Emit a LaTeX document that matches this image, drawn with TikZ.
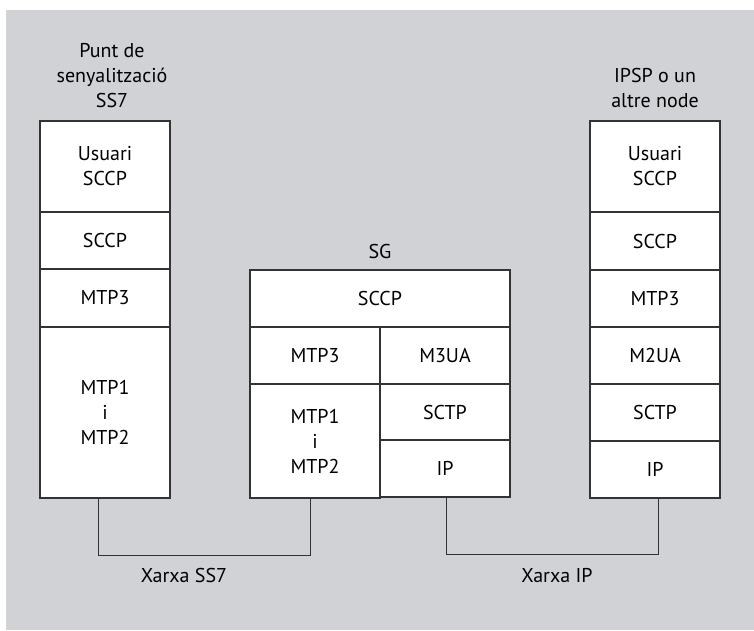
\documentclass[tikz,border=0pt]{standalone}
\usepackage{xcolor}
\usepackage{fontspec}
\setmainfont{PT Sans}
\usetikzlibrary{positioning}
\definecolor{fonsgris}{HTML}{D0D2D5}
\definecolor{linia}{HTML}{333333}

\begin{document}
\begin{tikzpicture}[x=1pt, y=-1pt,
		capa/.style={draw=linia, line width=1.2pt, fill=white, outer sep=0pt, inner sep=0pt, minimum width=130pt, align=center, font=\fontsize{20}{25}\selectfont},
		titol/.style={align=center, inner sep=0pt, font=\fontsize{20}{25}\selectfont},
		enllac/.style={draw=linia, line width=1pt}]
	\useasboundingbox (0, 0) rectangle (754, 630);
	\fill[fonsgris] (6, 10) rectangle (754, 630);

	% punt de senyalitzacio SS7
	\node[capa, minimum height=91pt, anchor=north] (pusr) at (105, 121) {Usuari\\SCCP};
	\node[capa, minimum height=57pt, below=0pt of pusr] (psccp) {SCCP};
	\node[capa, minimum height=58pt, below=0pt of psccp] (pmtp3) {MTP3};
	\node[capa, minimum height=171pt, below=0pt of pmtp3] (pmtp) {MTP1\\i\\MTP2};
	\node[titol, above=13pt of pusr, xshift=7pt] (ptitol) {Punt de\\senyalització\\SS7};

	% SG
	\node[capa, minimum width=260pt, minimum height=57pt, anchor=north] (gsccp) at (380, 270) {SCCP};
	\node[capa, minimum height=57pt, below right=0pt and 0pt of gsccp.south west] (gmtp3) {MTP3};
	\node[capa, minimum height=114pt, below=0pt of gmtp3] (gmtp) {MTP1\\i\\MTP2};
	\node[capa, minimum height=57pt, below left=0pt and 0pt of gsccp.south east] (gm3ua) {M3UA};
	\node[capa, minimum height=56pt, below=0pt of gm3ua] (gsctp) {SCTP};
	\node[capa, minimum height=57pt, below=0pt of gsctp] (gip) {IP};
	\node[titol, above=11pt of gsccp] (gtitol) {SG};

	% IPSP
	\node[capa, minimum height=91pt, anchor=north] (rusr) at (655, 121) {Usuari\\SCCP};
	\node[capa, minimum height=58pt, below=0pt of rusr] (rsccp) {SCCP};
	\node[capa, minimum height=57pt, below=0pt of rsccp] (rmtp3) {MTP3};
	\node[capa, minimum height=57pt, below=0pt of rmtp3] (rm2ua) {M2UA};
	\node[capa, minimum height=57pt, below=0pt of rm2ua] (rsctp) {SCTP};
	\node[capa, minimum height=57pt, below=0pt of rsctp] (rip) {IP};
	\node[titol, above=13pt of rusr] (rtitol) {IPSP o un\\altre node};

	% xarxes
	\draw[enllac] ([xshift=-7pt]pmtp.south) -- ++(0, 57) -| ([xshift=-5pt]gmtp.south);
	\draw[enllac] ([xshift=1pt]gip.south) -- ++(0, 57) -| ([xshift=3pt]rip.south);
	\node[titol] (xss7) at (184, 575) {Xarxa SS7};
	\node[titol] (xip) at (557, 575) {Xarxa IP};
\end{tikzpicture}
\end{document}
